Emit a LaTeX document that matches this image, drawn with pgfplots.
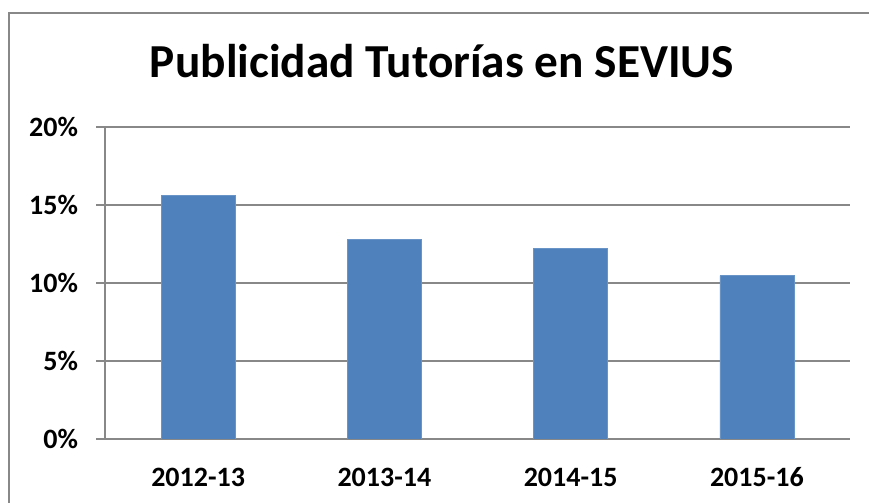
\documentclass[border=0pt]{standalone}
\usepackage{fontspec}
\setmainfont{Carlito}
\usepackage{pgfplots}
\pgfplotsset{compat=1.18}
\definecolor{barblue}{HTML}{4F81BD}
\definecolor{gridgray}{HTML}{888888}

\begin{document}
\begin{tikzpicture}
% 1 px of the reference = 0.75pt
\useasboundingbox (0pt,0pt) rectangle (651.75pt,377.25pt);
\draw[gridgray, line width=1.3pt] (6.75pt,0pt) -- (6.75pt,367.5pt) -- (651.75pt,367.5pt);
\node[font=\bfseries\fontsize{35.5}{40}\selectfont, anchor=base, inner sep=0pt] at (331.5pt,318.75pt) {Publicidad Tutorías en SEVIUS};
\begin{axis}[
  at={(78.75pt,48pt)}, anchor=south west, scale only axis, width=558.75pt, height=234pt,
  ybar, bar width=55.5pt,
  xmin=-0.5, xmax=3.5, ymin=0, ymax=20,
  xtick={0,1,2,3}, xticklabels={2012-13,2013-14,2014-15,2015-16},
  minor xtick={-0.5,0.5,1.5,2.5,3.5}, minor tick length=6pt,
  xtick style={draw=none}, minor x tick style={gridgray, line width=1.1pt},
  ytick={0,5,10,15,20}, yticklabels={0\%,5\%,10\%,15\%,20\%},
  tick align=outside, major tick length=6.75pt,
  ytick style={gridgray, line width=1.1pt},
  ymajorgrids, major grid style={gridgray, line width=1.1pt},
  axis x line*=bottom, axis y line*=left,
  axis line style={gridgray, line width=1.1pt, -},
  ticklabel style={font=\bfseries\fontsize{21}{25}\selectfont},
  yticklabel style={xshift=-10pt},
  xticklabel style={anchor=north, text height=14pt, text depth=0pt, yshift=-11.5pt},
]
\addplot[fill=barblue, draw=barblue!85!white] coordinates {(0,15.6) (1,12.8) (2,12.22) (3,10.47)};
\end{axis}
\end{tikzpicture}
\end{document}
